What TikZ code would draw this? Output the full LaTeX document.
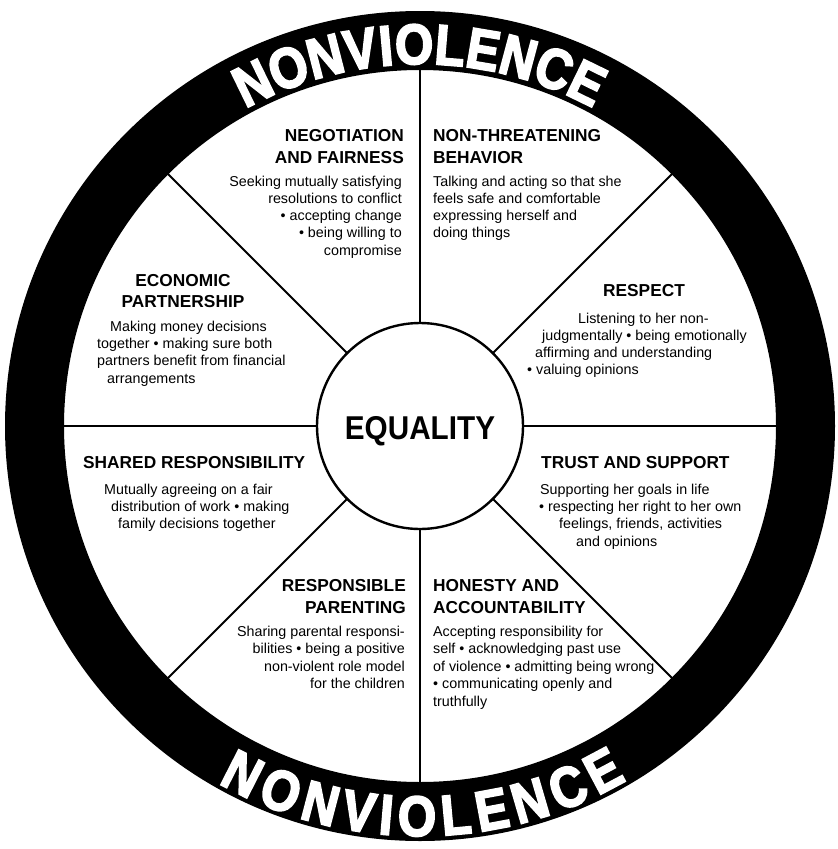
\documentclass[tikz,border=0pt]{standalone}
\usepackage{fontspec}
\setmainfont{Liberation Sans}
\newfontfamily\eqfont{Liberation Sans}[FakeStretch=0.9]
\newfontfamily\nvfont{Liberation Sans Bold}[FakeStretch=0.86,FakeBold=3.2]
\tikzset{
  ttl/.style={font=\fontsize{17.3}{20}\selectfont\bfseries, inner sep=0pt},
  bdy/.style={font=\fontsize{14.3}{17}\selectfont, inner sep=0pt},
  spoke/.style={line width=2pt, black},
  nvl/.style={font=\nvfont\fontsize{57}{60}\selectfont, text=white, inner sep=0pt, anchor=base}
}
\begin{document}
\begin{tikzpicture}[x=1pt, y=-1pt]
\useasboundingbox (0,0) rectangle (838,849);
\fill[white] (0,0) rectangle (838,849);
\begin{scope}[shift={(420,426)}, y=1pt]
  \fill[black, even odd rule] (0,0) circle (415) (0,0) circle (356);
  \foreach \a in {0,45,...,315} { \draw[spoke] (\a:103) -- (\a:357); }
  \draw[line width=2.4pt, fill=white] (0,0) circle (103);
  % top NONVIOLENCE (letters read outward)
  \foreach \l/\a [count=\i] in {N/116, O/110.2, N/104.4, V/99.0, I/95.13, O/90.88, L/85.47, E/80.44, N/75.03, C/69.42, E/64.01}
    { \node[nvl, rotate=\a-90] (top\i) at (\a:362) {\l}; }
  % bottom NONVIOLENCE (letters read inward)
  \foreach \l/\a [count=\i] in {N/243, O/249.14, N/255.27, V/260.99, I/265.07, O/269.57, L/275.29, E/280.61, N/286.34, C/292.27, E/297.99}
    { \node[nvl, rotate=\a+90] (bot\i) at (\a:410) {\l}; }
\end{scope}
\node[anchor=base, inner sep=0pt, font=\eqfont\bfseries\fontsize{33}{35}\selectfont] (eq) at (420,439) {EQUALITY};
% Negotiation and fairness
\node[ttl, anchor=base east] (n1) at (404,141) {NEGOTIATION};
\node[ttl, anchor=base east] (n2) at (404,163) {AND FAIRNESS};
\node[bdy, anchor=base east] (n3) at (402,186) {Seeking mutually satisfying};
\node[bdy, anchor=base east] (n4) at (402,203.3) {resolutions to conflict};
\node[bdy, anchor=base east] (n5) at (402,220.5) {• accepting change};
\node[bdy, anchor=base east] (n6) at (402,237.8) {• being willing to};
\node[bdy, anchor=base east] (n7) at (402,255) {compromise};
% Non-threatening behavior
\node[ttl, anchor=base west] (t1) at (433,141) {NON-THREATENING};
\node[ttl, anchor=base west] (t2) at (433,163) {BEHAVIOR};
\node[bdy, anchor=base west] (t3) at (433,186) {Talking and acting so that she};
\node[bdy, anchor=base west] (t4) at (433,203.3) {feels safe and comfortable};
\node[bdy, anchor=base west] (t5) at (433,220.5) {expressing herself and};
\node[bdy, anchor=base west] (t6) at (433,237.8) {doing things};
% Economic partnership
\node[ttl, anchor=base] (e1) at (183,286) {ECONOMIC};
\node[ttl, anchor=base] (e2) at (183,307) {PARTNERSHIP};
\node[bdy, anchor=base west] (e3) at (110,331) {Making money decisions};
\node[bdy, anchor=base west] (e4) at (97,348.3) {together • making sure both};
\node[bdy, anchor=base west] (e5) at (97,365.6) {partners benefit from financial};
\node[bdy, anchor=base west] (e6) at (107,383) {arrangements};
% Respect
\node[ttl, anchor=base] (r1) at (644,296) {RESPECT};
\node[bdy, anchor=base west] (r2) at (578,323) {Listening to her non-};
\node[bdy, anchor=base west] (r3) at (542,340) {judgmentally • being emotionally};
\node[bdy, anchor=base west] (r4) at (535,357) {affirming and understanding};
\node[bdy, anchor=base west] (r5) at (527,374) {• valuing opinions};
% Shared responsibility
\node[ttl, anchor=base west] (s1) at (83,468) {SHARED RESPONSIBILITY};
\node[bdy, anchor=base west] (s2) at (104,494) {Mutually agreeing on a fair};
\node[bdy, anchor=base west] (s3) at (111,511) {distribution of work • making};
\node[bdy, anchor=base west] (s4) at (118,528) {family decisions together};
% Trust and support
\node[ttl, anchor=base west] (u1) at (541,468) {TRUST AND SUPPORT};
\node[bdy, anchor=base west] (u2) at (540,494) {Supporting her goals in life};
\node[bdy, anchor=base west] (u3) at (539,511) {• respecting her right to her own};
\node[bdy, anchor=base west] (u4) at (559,528) {feelings, friends, activities};
\node[bdy, anchor=base west] (u5) at (576,546) {and opinions};
% Responsible parenting
\node[ttl, anchor=base east] (p1) at (406,591) {RESPONSIBLE};
\node[ttl, anchor=base east] (p2) at (406,613) {PARENTING};
\node[bdy, anchor=base east] (p3) at (405,636) {Sharing parental responsi-};
\node[bdy, anchor=base east] (p4) at (405,653.5) {bilities • being a positive};
\node[bdy, anchor=base east] (p5) at (405,671) {non-violent role model};
\node[bdy, anchor=base east] (p6) at (405,688.5) {for the children};
% Honesty and accountability
\node[ttl, anchor=base west] (h1) at (433,591) {HONESTY AND};
\node[ttl, anchor=base west] (h2) at (433,613) {ACCOUNTABILITY};
\node[bdy, anchor=base west] (h3) at (433,636) {Accepting responsibility for};
\node[bdy, anchor=base west] (h4) at (433,653.5) {self • acknowledging past use};
\node[bdy, anchor=base west] (h5) at (433,671) {of violence • admitting being wrong};
\node[bdy, anchor=base west] (h6) at (433,688.5) {• communicating openly and};
\node[bdy, anchor=base west] (h7) at (433,706) {truthfully};
\end{tikzpicture}
\end{document}
